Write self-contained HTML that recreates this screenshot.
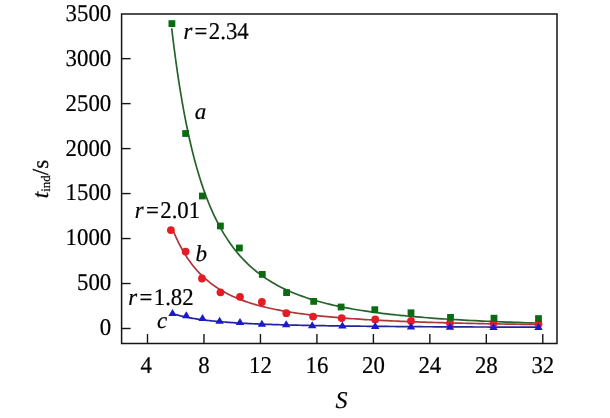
<!DOCTYPE html>
<html><head><meta charset="utf-8"><style>
html,body{margin:0;padding:0;background:#fff;width:610px;height:418px;overflow:hidden;}
svg{display:block;}
.f{font-family:"Liberation Serif",serif;text-rendering:geometricPrecision;fill:#000;stroke:#000;stroke-width:0.2px;}
</style></head><body><div style="will-change:transform">
<svg width="610" height="418" viewBox="0 0 610 418">
<rect width="610" height="418" fill="#fff"/>
<path d="M171.70 28.24 L171.74 28.58 L171.84 29.42 L171.99 30.68 L172.18 32.32 L172.42 34.31 L172.69 36.62 L173.01 39.22 L173.37 42.11 L173.76 45.25 L174.19 48.62 L174.66 52.22 L175.16 56.01 L175.70 59.98 L176.27 64.11 L176.88 68.39 L177.51 72.79 L178.18 77.31 L178.89 81.92 L179.62 86.62 L180.39 91.38 L181.18 96.19 L182.01 101.05 L182.87 105.93 L183.76 110.83 L184.68 115.74 L185.63 120.64 L186.61 125.53 L187.62 130.39 L188.66 135.22 L189.72 140.02 L190.82 144.77 L191.94 149.46 L193.10 154.10 L194.28 158.68 L195.49 163.19 L196.72 167.63 L197.99 172.00 L199.28 176.28 L200.60 180.49 L201.95 184.62 L203.32 188.66 L204.73 192.62 L206.16 196.49 L207.61 200.27 L209.09 203.97 L210.60 207.58 L212.14 211.10 L213.70 214.53 L215.29 217.87 L216.90 221.13 L218.54 224.30 L220.21 227.39 L221.90 230.39 L223.62 233.31 L225.36 236.15 L227.13 238.91 L228.93 241.59 L230.75 244.19 L232.59 246.72 L234.46 249.17 L236.36 251.55 L238.28 253.86 L240.22 256.10 L242.19 258.27 L244.19 260.38 L246.21 262.42 L248.25 264.40 L250.32 266.31 L252.41 268.17 L254.53 269.97 L256.67 271.72 L258.84 273.41 L261.03 275.04 L263.24 276.63 L265.48 278.17 L267.75 279.65 L270.03 281.09 L272.34 282.49 L274.68 283.84 L277.04 285.15 L279.42 286.41 L281.82 287.64 L284.25 288.83 L286.70 289.98 L289.18 291.09 L291.68 292.17 L294.20 293.22 L296.75 294.23 L299.32 295.21 L301.91 296.16 L304.53 297.07 L307.17 297.96 L309.83 298.83 L312.51 299.66 L315.22 300.47 L317.95 301.25 L320.71 302.01 L323.48 302.75 L326.28 303.46 L329.10 304.15 L331.95 304.82 L334.81 305.47 L337.70 306.10 L340.62 306.71 L343.55 307.30 L346.51 307.87 L349.49 308.43 L352.49 308.97 L355.52 309.49 L358.56 310.00 L361.63 310.49 L364.72 310.96 L367.83 311.43 L370.97 311.87 L374.13 312.31 L377.31 312.73 L380.51 313.14 L383.73 313.54 L386.98 313.93 L390.24 314.30 L393.53 314.66 L396.84 315.02 L400.18 315.36 L403.53 315.69 L406.91 316.02 L410.31 316.33 L413.72 316.64 L417.17 316.93 L420.63 317.22 L424.11 317.50 L427.62 317.77 L431.15 318.04 L434.69 318.29 L438.26 318.54 L441.86 318.79 L445.47 319.02 L449.10 319.25 L452.76 319.48 L456.43 319.69 L460.13 319.90 L463.85 320.11 L467.59 320.31 L471.35 320.50 L475.14 320.69 L478.94 320.88 L482.76 321.06 L486.61 321.23 L490.48 321.40 L494.36 321.57 L498.27 321.73 L502.20 321.89 L506.15 322.04 L510.12 322.19 L514.11 322.33 L518.13 322.47 L522.16 322.61 L526.21 322.75 L530.29 322.88 L534.38 323.00 L538.50 323.13" fill="none" stroke="#26622c" stroke-width="1.70" stroke-linejoin="round"/>
<path d="M173.00 230.15 L173.04 230.25 L173.14 230.49 L173.28 230.85 L173.48 231.32 L173.71 231.89 L173.99 232.56 L174.31 233.31 L174.66 234.14 L175.06 235.04 L175.49 236.02 L175.95 237.06 L176.45 238.16 L176.99 239.31 L177.56 240.51 L178.16 241.76 L178.79 243.04 L179.46 244.37 L180.16 245.72 L180.89 247.10 L181.66 248.50 L182.45 249.92 L183.28 251.36 L184.13 252.81 L185.02 254.27 L185.93 255.73 L186.88 257.19 L187.86 258.66 L188.86 260.12 L189.90 261.58 L190.96 263.03 L192.05 264.47 L193.17 265.90 L194.32 267.32 L195.50 268.72 L196.70 270.11 L197.94 271.47 L199.20 272.82 L200.48 274.15 L201.80 275.46 L203.14 276.75 L204.51 278.02 L205.91 279.26 L207.33 280.48 L208.78 281.68 L210.26 282.85 L211.76 284.00 L213.29 285.12 L214.85 286.22 L216.43 287.30 L218.04 288.35 L219.68 289.37 L221.34 290.38 L223.02 291.36 L224.73 292.31 L226.47 293.24 L228.23 294.15 L230.02 295.04 L231.84 295.90 L233.67 296.74 L235.54 297.56 L237.43 298.35 L239.34 299.13 L241.28 299.89 L243.24 300.62 L245.23 301.33 L247.24 302.03 L249.28 302.71 L251.34 303.36 L253.43 304.00 L255.54 304.62 L257.67 305.23 L259.83 305.81 L262.01 306.38 L264.22 306.94 L266.45 307.48 L268.71 308.00 L270.98 308.51 L273.29 309.00 L275.61 309.48 L277.96 309.95 L280.34 310.40 L282.73 310.84 L285.15 311.27 L287.60 311.68 L290.06 312.09 L292.56 312.48 L295.07 312.86 L297.61 313.23 L300.17 313.59 L302.75 313.94 L305.36 314.27 L307.99 314.60 L310.64 314.92 L313.31 315.23 L316.01 315.54 L318.73 315.83 L321.48 316.11 L324.24 316.39 L327.03 316.66 L329.85 316.92 L332.68 317.18 L335.54 317.42 L338.42 317.66 L341.32 317.90 L344.24 318.12 L347.19 318.34 L350.16 318.56 L353.15 318.77 L356.16 318.97 L359.20 319.17 L362.26 319.36 L365.34 319.55 L368.44 319.73 L371.56 319.90 L374.71 320.08 L377.88 320.24 L381.07 320.41 L384.28 320.56 L387.51 320.72 L390.77 320.87 L394.05 321.01 L397.35 321.16 L400.67 321.29 L404.01 321.43 L407.37 321.56 L410.76 321.69 L414.17 321.81 L417.60 321.93 L421.05 322.05 L424.52 322.17 L428.01 322.28 L431.53 322.39 L435.06 322.49 L438.62 322.60 L442.20 322.70 L445.80 322.80 L449.42 322.89 L453.06 322.99 L456.73 323.08 L460.41 323.17 L464.12 323.25 L467.84 323.34 L471.59 323.42 L475.36 323.50 L479.15 323.58 L482.96 323.65 L486.79 323.73 L490.65 323.80 L494.52 323.87 L498.41 323.94 L502.33 324.01 L506.27 324.08 L510.22 324.14 L514.20 324.20 L518.20 324.27 L522.22 324.33 L526.26 324.38 L530.32 324.44 L534.40 324.50 L538.50 324.55" fill="none" stroke="#b03538" stroke-width="1.70" stroke-linejoin="round"/>
<path d="M172.50 313.60 L172.54 313.61 L172.64 313.64 L172.79 313.69 L172.98 313.75 L173.21 313.83 L173.49 313.91 L173.81 314.01 L174.17 314.12 L174.56 314.23 L174.99 314.36 L175.46 314.49 L175.96 314.64 L176.49 314.79 L177.06 314.94 L177.66 315.10 L178.30 315.27 L178.97 315.45 L179.67 315.62 L180.40 315.80 L181.17 315.99 L181.96 316.18 L182.79 316.37 L183.65 316.56 L184.53 316.75 L185.45 316.95 L186.40 317.14 L187.38 317.34 L188.38 317.54 L189.42 317.73 L190.48 317.93 L191.58 318.12 L192.70 318.32 L193.85 318.51 L195.03 318.70 L196.23 318.89 L197.47 319.08 L198.73 319.26 L200.02 319.45 L201.34 319.63 L202.68 319.81 L204.06 319.98 L205.45 320.16 L206.88 320.33 L208.33 320.50 L209.81 320.66 L211.32 320.82 L212.85 320.98 L214.41 321.14 L215.99 321.29 L217.60 321.44 L219.24 321.59 L220.90 321.73 L222.59 321.88 L224.31 322.01 L226.04 322.15 L227.81 322.28 L229.60 322.41 L231.42 322.54 L233.26 322.66 L235.12 322.78 L237.01 322.90 L238.93 323.02 L240.87 323.13 L242.84 323.24 L244.83 323.35 L246.84 323.45 L248.88 323.56 L250.95 323.66 L253.04 323.75 L255.15 323.85 L257.29 323.94 L259.45 324.03 L261.63 324.12 L263.84 324.20 L266.08 324.29 L268.34 324.37 L270.62 324.45 L272.92 324.53 L275.25 324.60 L277.61 324.68 L279.98 324.75 L282.38 324.82 L284.81 324.89 L287.25 324.95 L289.72 325.02 L292.22 325.08 L294.74 325.14 L297.28 325.20 L299.84 325.26 L302.43 325.32 L305.04 325.37 L307.67 325.43 L310.33 325.48 L313.01 325.53 L315.71 325.58 L318.43 325.63 L321.18 325.68 L323.95 325.72 L326.74 325.77 L329.56 325.81 L332.40 325.85 L335.26 325.90 L338.14 325.94 L341.05 325.98 L343.98 326.02 L346.93 326.05 L349.90 326.09 L352.90 326.13 L355.91 326.16 L358.95 326.20 L362.02 326.23 L365.10 326.26 L368.21 326.29 L371.34 326.32 L374.49 326.35 L377.66 326.38 L380.85 326.41 L384.07 326.44 L387.31 326.47 L390.57 326.49 L393.85 326.52 L397.15 326.55 L400.48 326.57 L403.83 326.60 L407.19 326.62 L410.59 326.64 L414.00 326.67 L417.43 326.69 L420.89 326.71 L424.36 326.73 L427.86 326.75 L431.38 326.77 L434.92 326.79 L438.48 326.81 L442.07 326.83 L445.67 326.85 L449.30 326.86 L452.94 326.88 L456.61 326.90 L460.30 326.92 L464.01 326.93 L467.75 326.95 L471.50 326.96 L475.27 326.98 L479.07 326.99 L482.88 327.01 L486.72 327.02 L490.58 327.04 L494.46 327.05 L498.36 327.06 L502.28 327.08 L506.22 327.09 L510.18 327.10 L514.17 327.12 L518.17 327.13 L522.19 327.14 L526.24 327.15 L530.31 327.16 L534.39 327.17 L538.50 327.18" fill="none" stroke="#22259a" stroke-width="1.70" stroke-linejoin="round"/>
<circle cx="170.90" cy="230.10" r="3.9" fill="#e41d25"/>
<circle cx="185.60" cy="251.60" r="3.9" fill="#e41d25"/>
<circle cx="202.00" cy="278.50" r="3.9" fill="#e41d25"/>
<circle cx="220.50" cy="292.30" r="3.9" fill="#e41d25"/>
<circle cx="240.00" cy="296.80" r="3.9" fill="#e41d25"/>
<circle cx="261.90" cy="302.00" r="3.9" fill="#e41d25"/>
<circle cx="286.30" cy="313.20" r="3.9" fill="#e41d25"/>
<circle cx="313.10" cy="316.60" r="3.9" fill="#e41d25"/>
<circle cx="341.70" cy="318.10" r="3.9" fill="#e41d25"/>
<circle cx="375.20" cy="319.40" r="3.9" fill="#e41d25"/>
<circle cx="411.00" cy="320.90" r="3.9" fill="#e41d25"/>
<circle cx="450.00" cy="323.20" r="3.9" fill="#e41d25"/>
<circle cx="493.50" cy="323.30" r="3.9" fill="#e41d25"/>
<circle cx="538.50" cy="324.00" r="3.9" fill="#e41d25"/>
<rect x="168.50" y="20.20" width="6.8" height="6.8" fill="#0b6b12"/>
<rect x="182.20" y="130.10" width="6.8" height="6.8" fill="#0b6b12"/>
<rect x="199.00" y="192.60" width="6.8" height="6.8" fill="#0b6b12"/>
<rect x="217.00" y="222.60" width="6.8" height="6.8" fill="#0b6b12"/>
<rect x="236.00" y="244.60" width="6.8" height="6.8" fill="#0b6b12"/>
<rect x="258.90" y="271.00" width="6.8" height="6.8" fill="#0b6b12"/>
<rect x="283.20" y="289.20" width="6.8" height="6.8" fill="#0b6b12"/>
<rect x="310.30" y="298.00" width="6.8" height="6.8" fill="#0b6b12"/>
<rect x="337.70" y="303.60" width="6.8" height="6.8" fill="#0b6b12"/>
<rect x="371.40" y="306.30" width="6.8" height="6.8" fill="#0b6b12"/>
<rect x="407.60" y="309.40" width="6.8" height="6.8" fill="#0b6b12"/>
<rect x="447.10" y="314.00" width="6.8" height="6.8" fill="#0b6b12"/>
<rect x="490.60" y="314.80" width="6.8" height="6.8" fill="#0b6b12"/>
<rect x="535.10" y="315.20" width="6.8" height="6.8" fill="#0b6b12"/>
<path d="M172.50 309.00 L176.70 316.00 L168.30 316.00 Z" fill="#1a1acc"/>
<path d="M186.30 311.30 L190.50 318.30 L182.10 318.30 Z" fill="#1a1acc"/>
<path d="M202.50 314.00 L206.70 321.00 L198.30 321.00 Z" fill="#1a1acc"/>
<path d="M219.60 316.80 L223.80 323.80 L215.40 323.80 Z" fill="#1a1acc"/>
<path d="M240.00 318.00 L244.20 325.00 L235.80 325.00 Z" fill="#1a1acc"/>
<path d="M261.90 319.80 L266.10 326.80 L257.70 326.80 Z" fill="#1a1acc"/>
<path d="M286.20 320.30 L290.40 327.30 L282.00 327.30 Z" fill="#1a1acc"/>
<path d="M312.20 321.20 L316.40 328.20 L308.00 328.20 Z" fill="#1a1acc"/>
<path d="M342.40 321.50 L346.60 328.50 L338.20 328.50 Z" fill="#1a1acc"/>
<path d="M375.20 321.90 L379.40 328.90 L371.00 328.90 Z" fill="#1a1acc"/>
<path d="M411.00 322.40 L415.20 329.40 L406.80 329.40 Z" fill="#1a1acc"/>
<path d="M450.00 322.80 L454.20 329.80 L445.80 329.80 Z" fill="#1a1acc"/>
<path d="M493.50 323.00 L497.70 330.00 L489.30 330.00 Z" fill="#1a1acc"/>
<path d="M538.50 323.00 L542.70 330.00 L534.30 330.00 Z" fill="#1a1acc"/>
<path d="M121.60 14.00 H557.00 V343.60 H121.60 Z" fill="none" stroke="#151515" stroke-width="1.5"/>
<line x1="121.60" y1="328.50" x2="130.60" y2="328.50" stroke="#151515" stroke-width="1.4"/>
<line x1="121.60" y1="283.52" x2="130.60" y2="283.52" stroke="#151515" stroke-width="1.4"/>
<line x1="121.60" y1="238.55" x2="130.60" y2="238.55" stroke="#151515" stroke-width="1.4"/>
<line x1="121.60" y1="193.57" x2="130.60" y2="193.57" stroke="#151515" stroke-width="1.4"/>
<line x1="121.60" y1="148.60" x2="130.60" y2="148.60" stroke="#151515" stroke-width="1.4"/>
<line x1="121.60" y1="103.62" x2="130.60" y2="103.62" stroke="#151515" stroke-width="1.4"/>
<line x1="121.60" y1="58.65" x2="130.60" y2="58.65" stroke="#151515" stroke-width="1.4"/>
<line x1="147.50" y1="343.60" x2="147.50" y2="334.00" stroke="#151515" stroke-width="1.4"/>
<line x1="203.97" y1="343.60" x2="203.97" y2="334.00" stroke="#151515" stroke-width="1.4"/>
<line x1="260.44" y1="343.60" x2="260.44" y2="334.00" stroke="#151515" stroke-width="1.4"/>
<line x1="316.92" y1="343.60" x2="316.92" y2="334.00" stroke="#151515" stroke-width="1.4"/>
<line x1="373.39" y1="343.60" x2="373.39" y2="334.00" stroke="#151515" stroke-width="1.4"/>
<line x1="429.86" y1="343.60" x2="429.86" y2="334.00" stroke="#151515" stroke-width="1.4"/>
<line x1="486.33" y1="343.60" x2="486.33" y2="334.00" stroke="#151515" stroke-width="1.4"/>
<line x1="542.80" y1="343.60" x2="542.80" y2="334.00" stroke="#151515" stroke-width="1.4"/>
<text transform="translate(111.2,335.00) scale(0.950,1)" class="f" font-size="24.0" text-anchor="end">0</text>
<text transform="translate(111.2,290.13) scale(0.950,1)" class="f" font-size="24.0" text-anchor="end">500</text>
<text transform="translate(111.2,245.27) scale(0.950,1)" class="f" font-size="24.0" text-anchor="end">1000</text>
<text transform="translate(111.2,200.41) scale(0.950,1)" class="f" font-size="24.0" text-anchor="end">1500</text>
<text transform="translate(111.2,155.54) scale(0.950,1)" class="f" font-size="24.0" text-anchor="end">2000</text>
<text transform="translate(111.2,110.67) scale(0.950,1)" class="f" font-size="24.0" text-anchor="end">2500</text>
<text transform="translate(111.2,65.81) scale(0.950,1)" class="f" font-size="24.0" text-anchor="end">3000</text>
<text transform="translate(111.2,20.95) scale(0.950,1)" class="f" font-size="24.0" text-anchor="end">3500</text>
<text transform="translate(146.30,373.30) scale(0.950,1)" class="f" font-size="24.0" text-anchor="middle">4</text>
<text transform="translate(203.97,373.30) scale(0.950,1)" class="f" font-size="24.0" text-anchor="middle">8</text>
<text transform="translate(260.44,373.30) scale(0.950,1)" class="f" font-size="24.0" text-anchor="middle">12</text>
<text transform="translate(316.92,373.30) scale(0.950,1)" class="f" font-size="24.0" text-anchor="middle">16</text>
<text transform="translate(373.39,373.30) scale(0.950,1)" class="f" font-size="24.0" text-anchor="middle">20</text>
<text transform="translate(429.86,373.30) scale(0.950,1)" class="f" font-size="24.0" text-anchor="middle">24</text>
<text transform="translate(486.33,373.30) scale(0.950,1)" class="f" font-size="24.0" text-anchor="middle">28</text>
<text transform="translate(542.80,373.30) scale(0.950,1)" class="f" font-size="24.0" text-anchor="middle">32</text>
<text x="341.5" y="407.5" class="f" font-size="24" font-style="italic" text-anchor="middle">S</text>
<text transform="translate(48.4,179) rotate(-90)" class="f" font-size="23" text-anchor="middle"><tspan font-style="italic">t</tspan><tspan font-size="13" dy="2">ind</tspan><tspan dy="-2">/s</tspan></text>
<text transform="translate(183.40,39.00) scale(0.950,1)" class="f" font-size="24.0"><tspan font-style="italic">r</tspan><tspan dx="2.40">=</tspan><tspan dx="1.50">2.34</tspan></text>
<text transform="translate(134.80,217.80) scale(0.950,1)" class="f" font-size="24.0"><tspan font-style="italic">r</tspan><tspan dx="2.40">=</tspan><tspan dx="1.50">2.01</tspan></text>
<text transform="translate(128.30,304.50) scale(0.950,1)" class="f" font-size="24.0"><tspan font-style="italic">r</tspan><tspan dx="2.40">=</tspan><tspan dx="1.50">1.82</tspan></text>
<text x="200.5" y="119" class="f" font-size="23" font-style="italic" text-anchor="middle">a</text>
<text x="201.2" y="261" class="f" font-size="23" font-style="italic" text-anchor="middle">b</text>
<text x="162.0" y="327.5" class="f" font-size="23" font-style="italic" text-anchor="middle">c</text>
</svg>
</div></body></html>
